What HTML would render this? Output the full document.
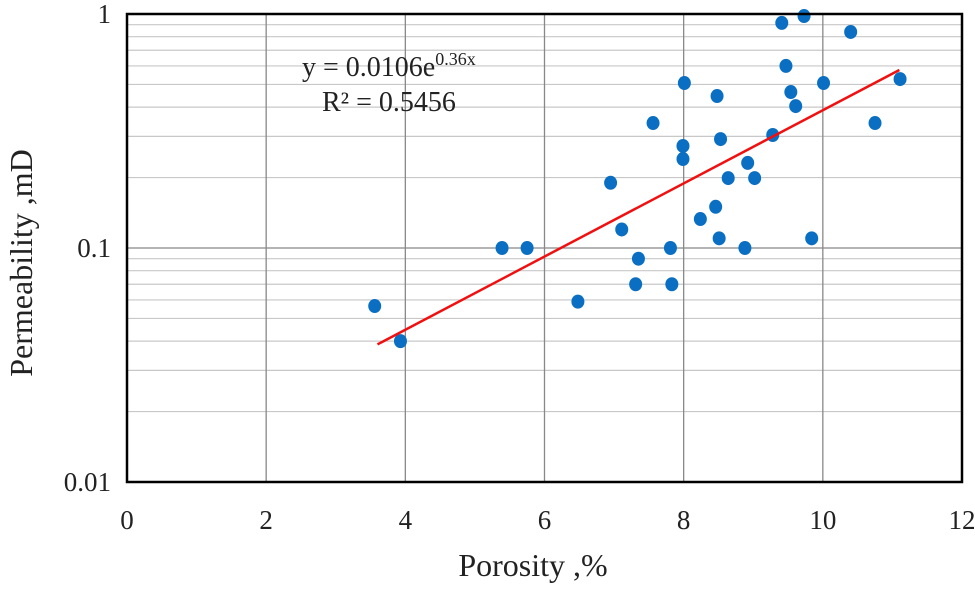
<!DOCTYPE html>
<html><head><meta charset="utf-8"><style>
body{margin:0;background:#fff;}
svg text{font-family:"Liberation Serif",serif;fill:#222;}
</style></head><body>
<svg id="chart" width="975" height="584" viewBox="0 0 975 584" xmlns="http://www.w3.org/2000/svg">
<g id="grid"></g>
<g id="marks"></g>
<g id="ticks"></g>
<rect x="127" y="14" width="835" height="468" fill="none" stroke="#000" stroke-width="2.5"/>
<text x="302" y="76" font-size="28">y = 0.0106e<tspan font-size="18" dy="-11">0.36x</tspan></text>
<text x="322" y="111" font-size="28">R² = 0.5456</text>
<text x="533" y="576" font-size="32" text-anchor="middle">Porosity ,%</text>
<text transform="translate(32,263) rotate(-90)" font-size="32" text-anchor="middle">Permeability ,mD</text>
</svg>
<script>
const porosity=[3.56,3.93,5.39,5.75,6.48,6.95,7.11,7.56,7.35,7.31,7.81,7.83,8.01,7.99,7.99,8.24,8.46,8.51,8.48,8.53,8.64,8.88,8.92,9.02,9.28,9.41,9.73,9.47,9.54,9.61,10.01,9.84,10.4,10.75,11.11];
const permeability=[0.0565,0.040,0.1,0.1,0.059,0.19,0.12,0.342,0.09,0.070,0.1,0.07,0.507,0.273,0.24,0.133,0.150,0.110,0.446,0.292,0.199,0.1,0.231,0.199,0.304,0.916,0.98,0.6,0.464,0.404,0.507,0.110,0.838,0.342,0.527];
const xTicks=[0,2,4,6,8,10,12];
const yTicks=[1,0.1,0.01];
const trendCoef=0.0106, trendExp=0.36, trendRange=[3.6,11.1];
const L=127,R=962,T=14,B=482;
const sx=v=>L+(v-0)/12*(R-L);
const sy=v=>T+(0-Math.log10(v))/2*(B-T);
const NS="http://www.w3.org/2000/svg";
function mk(tag,attrs,parent){const e=document.createElementNS(NS,tag);for(const k in attrs)e.setAttribute(k,attrs[k]);parent.appendChild(e);return e;}
const grid=document.getElementById('grid'),marks=document.getElementById('marks'),ticks=document.getElementById('ticks');
for(let d=0;d<2;d++){for(let m=2;m<=9;m++){const v=Math.pow(10,-2+d)*m;
 const l=mk('line',{x1:L,x2:R,y1:sy(v),y2:sy(v),stroke:'#c8c8c8','stroke-width':1.2},grid);
 
 }}
yTicks.forEach(v=>{const l=mk('line',{x1:L,x2:R,y1:sy(v),y2:sy(v),stroke:'#888','stroke-width':1.3},grid);
 
 
 const t=mk('text',{x:L-16,y:sy(v)+9,'font-size':27,'text-anchor':'end'},ticks);t.textContent=String(v);
 
 });
xTicks.forEach(v=>{const l=mk('line',{x1:sx(v),x2:sx(v),y1:T,y2:B,stroke:'#888','stroke-width':1.3},grid);
 
 
 const t=mk('text',{x:sx(v),y:B+47,'font-size':27,'text-anchor':'middle'},ticks);t.textContent=String(v);
 
 });
porosity.forEach((x,i)=>{const c=mk('ellipse',{cx:sx(x),cy:sy(permeability[i]),rx:6.5,ry:7,fill:'#0a6fc2'},marks);
 
 });
const f=x=>trendCoef*Math.exp(trendExp*x);
const tl=mk('line',{x1:sx(trendRange[0]),y1:sy(f(trendRange[0])),x2:sx(trendRange[1]),y2:sy(f(trendRange[1])),stroke:'#f01010','stroke-width':2.5},marks);


</script>
</body></html>
